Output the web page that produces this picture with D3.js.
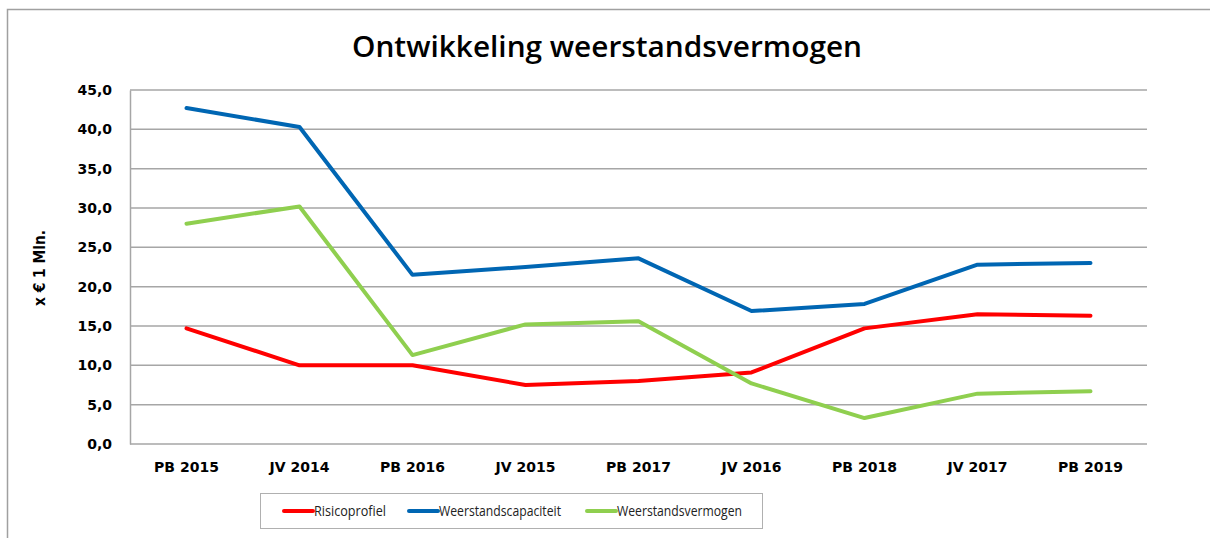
<!DOCTYPE html>
<html>
<head>
  <meta charset="utf-8">
  <title>Ontwikkeling weerstandsvermogen</title>
  <script src="https://cdn.jsdelivr.net/npm/d3@7"></script>
  <style>
    body { margin: 0; background: #fff; }
  </style>
</head>
<body>
<svg width="1210" height="538"></svg>

<script>
  // data
  var categories = ["PB 2015", "JV 2014", "PB 2016", "JV 2015", "PB 2017", "JV 2016", "PB 2018", "JV 2017", "PB 2019"];
  var risicoprofiel = [14.7, 10.0, 10.0, 7.5, 8.0, 9.1, 14.7, 16.5, 16.3];
  var weerstandscapaciteit = [42.7, 40.3, 21.5, 22.5, 23.6, 16.9, 17.8, 22.8, 23.0];
  var weerstandsvermogen = [28.0, 30.2, 11.3, 15.2, 15.6, 7.7, 3.3, 6.4, 6.7];
  var yTicks = [0, 5, 10, 15, 20, 25, 30, 35, 40, 45];

  var series = [
    { name: "Risicoprofiel", values: risicoprofiel, color: "#ff0000" },
    { name: "Weerstandscapaciteit", values: weerstandscapaciteit, color: "#0066b3" },
    { name: "Weerstandsvermogen", values: weerstandsvermogen, color: "#8fcf4f" }
  ];

  var svg = d3.select("svg");
  var plot = { left: 130, right: 1147, top: 90, bottom: 444 };

  // outer frame
  svg.append("rect")
    .attr("x", 7.5).attr("y", 9.5)
    .attr("width", 1220).attr("height", 540)
    .style("fill", "none").style("stroke", "#a0a0a0").style("stroke-width", 1.5);

  // title
  svg.append("text")
    .attr("x", 607).attr("y", 57)
    .attr("text-anchor", "middle")
    .style("font-family", "'Open Sans', sans-serif")
    .style("font-weight", 600)
    .style("font-size", "29px")
    .attr("textLength", 510)
    .attr("lengthAdjust", "spacingAndGlyphs")
    .text("Ontwikkeling weerstandsvermogen");

  var x = d3.scaleBand().domain(categories).range([plot.left, plot.right]);
  var y = d3.scaleLinear().domain([0, 45]).range([plot.bottom, plot.top]);

  // gridlines
  svg.append("g")
    .selectAll("line")
    .data(yTicks)
    .join("line")
    .attr("x1", plot.left).attr("x2", plot.right)
    .attr("y1", function(d) { return y(d); })
    .attr("y2", function(d) { return y(d); })
    .style("stroke", "#a6a6a6").style("stroke-width", 1.5);

  var tickFont = function(sel) {
    sel.style("font-family", "'DejaVu Sans', Verdana, sans-serif")
      .style("font-weight", "bold")
      .style("font-size", "14px")
      .style("fill", "#000");
  };

  // y axis
  var yAxis = svg.append("g")
    .attr("transform", "translate(" + plot.left + ",0)")
    .call(d3.axisLeft(y).tickValues(yTicks).tickSize(0).tickPadding(18)
      .tickFormat(function(d) { return d3.format(".1f")(d).replace(".", ","); }));
  yAxis.select(".domain").style("stroke", "#a6a6a6").style("stroke-width", 1.5);
  yAxis.selectAll("text").call(tickFont);

  // x axis
  var xAxis = svg.append("g")
    .attr("transform", "translate(0," + plot.bottom + ")")
    .call(d3.axisBottom(x).tickSize(0).tickPadding(18));
  xAxis.select(".domain").remove();
  xAxis.selectAll("text").call(tickFont);

  // y label
  svg.append("text")
    .attr("transform", "translate(45,268) rotate(-90)")
    .attr("text-anchor", "middle")
    .style("font-family", "'DejaVu Sans', Verdana, sans-serif")
    .style("font-weight", "bold")
    .style("font-size", "15px")
    .attr("textLength", 76)
    .attr("lengthAdjust", "spacingAndGlyphs")
    .text("x € 1 Mln.");

  // lines
  var line = d3.line()
    .x(function(d, i) { return x(categories[i]) + x.bandwidth() / 2; })
    .y(function(d) { return y(d); });

  svg.append("g")
    .selectAll("path")
    .data(series)
    .join("path")
    .attr("d", function(s) { return line(s.values); })
    .style("fill", "none")
    .style("stroke", function(s) { return s.color; })
    .style("stroke-width", 4)
    .style("stroke-linejoin", "round")
    .style("stroke-linecap", "round");

  // legend
  var legend = svg.append("g");
  legend.append("rect")
    .attr("x", 260.5).attr("y", 493.5)
    .attr("width", 502).attr("height", 35)
    .style("fill", "#fff").style("stroke", "#b0b0b0").style("stroke-width", 1);

  var legendX = [284, 409, 587];
  var legendW = [72, 122, 125];
  var item = legend.selectAll("g.item")
    .data(series)
    .join("g")
    .attr("class", "item")
    .attr("transform", function(d, i) { return "translate(" + legendX[i] + ",511)"; });
  item.append("line")
    .attr("x1", 0).attr("x2", 29)
    .style("stroke", function(d) { return d.color; })
    .style("stroke-width", 4)
    .style("stroke-linecap", "round");
  item.append("text")
    .attr("x", 30).attr("y", 5)
    .attr("textLength", function(d, i) { return legendW[i]; })
    .attr("lengthAdjust", "spacingAndGlyphs")
    .style("font-family", "'Open Sans', sans-serif")
    .style("font-size", "14px")
    .style("fill", "#222")
    .text(function(d) { return d.name; });
</script>
</body>
</html>
